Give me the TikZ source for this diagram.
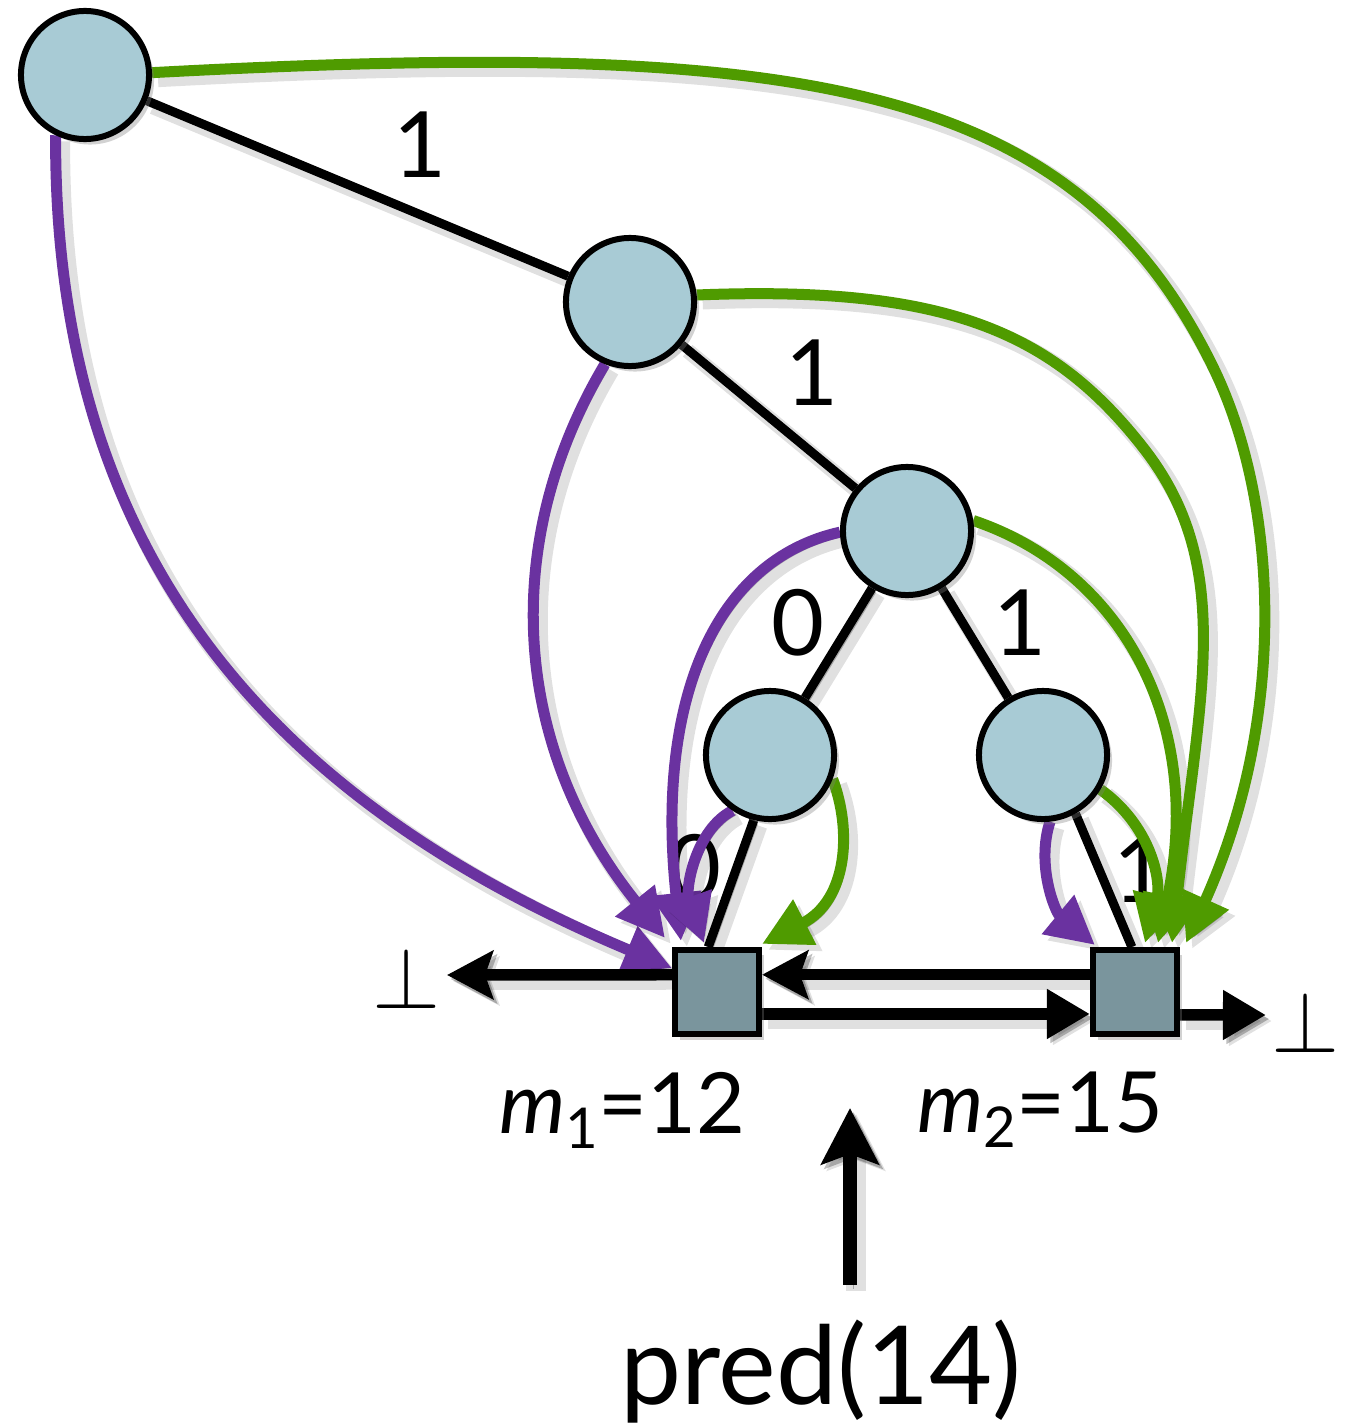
\documentclass[tikz,border=0pt]{standalone}
\usepackage{fontspec}
\setmainfont{Lato}
\usetikzlibrary{arrows.meta,shadows}
\definecolor{nodefill}{HTML}{A8CBD5}
\definecolor{sqfill}{HTML}{7A959D}
\definecolor{purp}{HTML}{6A32A0}
\definecolor{grn}{HTML}{4F9B00}
\pgfdeclarelayer{background}
\pgfsetlayers{background,main}
\begin{document}
\begin{tikzpicture}[x=0.01cm,y=-0.01cm,
  nshadow/.style={drop shadow={shadow xshift=0.05cm,shadow yshift=-0.055cm,opacity=0.35}},
  tnode/.style={circle,draw=black,line width=0.06cm,fill=nodefill,minimum size=1.28cm,inner sep=0pt,nshadow},
  leaf/.style={rectangle,draw=black,line width=0.06cm,fill=sqfill,minimum size=0.84cm,inner sep=0pt,nshadow},
  lshadow/.style={preaction={draw=black,opacity=0.12,line width=#1,transform canvas={shift={(0.06cm,-0.06cm)}}},
                  preaction={draw=black,opacity=0.25,transform canvas={shift={(0.035cm,-0.04cm)}}}},
  tedge/.style={draw=black,line width=0.09cm,lshadow=0.15cm},
  pptr/.style={draw=purp,line width=0.11cm,-{Triangle[length=0.48cm,width=0.48cm]},lshadow=0.17cm},
  gptr/.style={draw=grn,line width=0.11cm,-{Triangle[length=0.48cm,width=0.48cm]},lshadow=0.17cm},
  lptr/.style={draw=black,line width=0.115cm,-{Stealth[length=0.46cm,width=0.48cm,inset=0.08cm]},lshadow=0.18cm},
  rptr/.style={draw=black,line width=0.115cm,-{Triangle[length=0.43cm,width=0.47cm]},lshadow=0.18cm},
  uptr/.style={draw=black,line width=0.14cm,-{Stealth[length=0.56cm,width=0.57cm,inset=0.1cm]},lshadow=0.2cm},
  elab/.style={font=\fontsize{26}{30}\selectfont,inner sep=0pt},
  mlab/.style={font=\fontsize{24}{28}\selectfont,inner sep=0pt},
  perpsym/.style={font=\fontsize{24}{28}\selectfont,inner sep=0pt}
]
\useasboundingbox (0,0) rectangle (1356,1427);

% tree nodes
\node[tnode] (root) at (85,75) {};
\node[tnode] (n2) at (630,302) {};
\node[tnode] (n3) at (907,531) {};
\node[tnode] (n4) at (770,755) {};
\node[tnode] (n5) at (1043,755) {};
\node[leaf] (m1) at (717,992) {};
\node[leaf] (m2) at (1135,992) {};

% labels
\node[perpsym] (perpL) at (407,978) {$\perp$};
\node[perpsym] (perpR) at (1306,1022) {$\perp$};
\coordinate (lend) at (447,975);
\coordinate (rend) at (1266,1015);
\node[mlab] (lab1) at (622,1110) {\textit{m}\raisebox{-0.35ex}{\fontsize{16}{16}\selectfont 1}=12};
\node[mlab] (lab2) at (1040,1110) {\textit{m}\raisebox{-0.35ex}{\fontsize{16}{16}\selectfont 2}=15};
\node[font=\fontsize{31}{36}\selectfont,inner sep=0pt] (pred) at (821,1372) {pred(14)};
\coordinate (ptip) at (850,1108);

\begin{pgfonlayer}{background}
\fill[white] (0,0) rectangle (1356,1427);
% tree edges
\draw[tedge] (root) -- (n2);
\draw[tedge] (n2) -- (n3);
\draw[tedge] (n3) -- (n4);
\draw[tedge] (n3) -- (n5);
\draw[tedge] (n4.-104) -- (m1.101.6);
\draw[tedge] (n5.-61) -- (m2.94);

% edge labels
\node[elab] (e1) at (420,145) {1};
\node[elab] (e2) at (812,373) {1};
\node[elab] (e3) at (798,623) {0};
\node[elab] (e4) at (1020,623) {1};
\node[elab] (e5) at (695,868) {0};
\node[elab] (e6) at (1140,870) {1};

% purple pointers
\draw[pptr] (root.-116.6) .. controls (54,537) and (251,792) .. (m1.152);
\draw[pptr] (n2.-112) .. controls (500,540) and (510,745) .. ([shift={(-7,-9)}]m1.north west);
\draw[pptr] (n3.181.7) .. controls (715,560) and (655,700) .. ([shift={(9,-6)}]m1.north west);
\draw[pptr] (n4.-124) .. controls (695,830) and (685,890) .. ([shift={(32,-4)}]m1.north west);
\draw[pptr] (n5.-84) .. controls (1036,865) and (1055,912) .. ([shift={(5,-2)}]m2.north west);

% green pointers
\draw[gptr] (n4.-21) .. controls (852,830) and (848,900) .. ([shift={(0,-3)}]m1.north east);
\draw[gptr] (n5.-31.5) .. controls (1150,825) and (1162,880) .. ([shift={(10,-4)}]m2.north);
\draw[gptr] (n3.9.5) .. controls (1120,570) and (1205,720) .. ([shift={(23,-4)}]m2.north);
\draw[gptr] (n2.6) .. controls (945,285) and (1053,331) .. (1145,450)
   .. controls (1236,568) and (1199,697) .. ([shift={(37,-4)}]m2.north);
\draw[gptr] (root.2.6) .. controls (800,38) and (1072,79) .. (1213,367)
   .. controls (1279,502) and (1288,717) .. ([shift={(51,-4)}]m2.north);

% list pointers
\draw[lptr] (m2.159) -- (m1.21);
\draw[rptr] (m1.-26.6) -- (m2.206.6);
\draw[lptr] (m1.159) -- (lend);
\draw[rptr] (m2.-27.6) -- (rend);
\draw[uptr,shorten <=0.35cm] (ptip |- pred.north) -- (ptip);
\end{pgfonlayer}
\end{tikzpicture}
\end{document}
